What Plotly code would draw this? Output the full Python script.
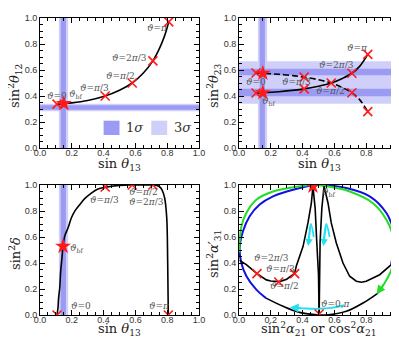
import plotly.graph_objects as go

# ---- panel (a): sin^2 th12 vs sin th13
a_s13 = [0.107, 0.15, 0.2, 0.3, 0.41, 0.5, 0.58, 0.65, 0.71, 0.75, 0.78, 0.795, 0.81]
a_s12 = [0.337, 0.341, 0.347, 0.366, 0.40, 0.444, 0.50, 0.577, 0.67, 0.762, 0.851, 0.906, 0.97]
a_cross_x = [0.107, 0.41, 0.58, 0.71, 0.81]
a_cross_y = [0.337, 0.40, 0.50, 0.67, 0.97]
a_bf = (0.15, 0.341)

# ---- panel (b): sin^2 th23 vs sin th13
b_s13 = [0.107, 0.15, 0.25, 0.35, 0.41, 0.5, 0.58, 0.65, 0.71, 0.76, 0.81]
b_solid = [0.423, 0.425, 0.433, 0.445, 0.455, 0.475, 0.50, 0.535, 0.575, 0.63, 0.72]
b_dash = [0.577, 0.575, 0.567, 0.555, 0.545, 0.525, 0.50, 0.465, 0.425, 0.37, 0.28]
b_cross_x = [0.107, 0.107, 0.41, 0.41, 0.58, 0.71, 0.71, 0.81, 0.81]
b_cross_y = [0.423, 0.577, 0.455, 0.545, 0.50, 0.575, 0.425, 0.72, 0.28]
b_bf_x = [0.15, 0.15]
b_bf_y = [0.425, 0.575]

# ---- panel (c): sin^2 delta vs sin th13
c_s13 = [0.107, 0.113, 0.117, 0.124, 0.13, 0.138, 0.145, 0.155, 0.176, 0.197, 0.218, 0.25,
         0.281, 0.323, 0.365, 0.407, 0.5, 0.58, 0.65, 0.71, 0.74, 0.753, 0.768, 0.784,
         0.797, 0.803, 0.807]
c_sd = [0.0, 0.054, 0.13, 0.208, 0.336, 0.438, 0.528, 0.605, 0.669, 0.746, 0.797, 0.849,
        0.895, 0.938, 0.969, 0.982, 0.997, 1.0, 1.0, 1.0, 0.995, 0.985, 0.96, 0.9,
        0.75, 0.41, 0.0]
c_cross_x = [0.107, 0.41, 0.58, 0.71, 0.807]
c_cross_y = [0.0, 0.985, 1.0, 1.0, 0.0]
c_bf = (0.145, 0.528)

# ---- panel (d): sin^2 a31' vs sin^2 a21 / cos^2 a21
d_blue_x = [0.958, 0.99, 1.0, 0.979, 0.927, 0.822, 0.675, 0.528, 0.486, 0.34, 0.214,
            0.13, 0.067, 0.025, 0.004, 0.015, 0.046, 0.109, 0.17]
d_blue_y = [0.387, 0.45, 0.528, 0.63, 0.785, 0.913, 0.977, 1.0, 1.0, 0.964, 0.913,
            0.85, 0.76, 0.644, 0.515, 0.40, 0.30, 0.195, 0.13]
d_green_x = [0.874, 0.916, 0.958, 0.979, 0.969, 0.927, 0.843, 0.696, 0.55, 0.47, 0.38,
             0.214, 0.109, 0.046, 0.015, 0.004, 0.002]
d_green_y = [0.169, 0.246, 0.348, 0.477, 0.605, 0.733, 0.86, 0.95, 0.99, 1.0, 0.99,
             0.95, 0.887, 0.785, 0.68, 0.554, 0.48]
d_bottom_x = [0.17, 0.277, 0.38, 0.5, 0.55, 0.675, 0.78, 0.874]
d_bottom_y = [0.13, 0.067, 0.02, 0.0, 0.0, 0.028, 0.092, 0.169]
d_left_x = [0.504, 0.5, 0.489, 0.479, 0.465, 0.455, 0.434, 0.403, 0.36, 0.35, 0.30,
            0.256, 0.2, 0.172, 0.113, 0.046, 0.004]
d_left_y = [0.0, 0.31, 0.564, 0.82, 0.99, 0.86, 0.71, 0.528, 0.375, 0.32, 0.275,
            0.257, 0.262, 0.27, 0.318, 0.387, 0.42]
d_right_x = [0.504, 0.506, 0.51, 0.521, 0.535, 0.56, 0.58, 0.612, 0.654, 0.696, 0.738,
             0.77, 0.8, 0.885, 0.948, 0.958]
d_right_y = [0.0, 0.31, 0.56, 0.82, 0.99, 0.86, 0.71, 0.554, 0.40, 0.298, 0.26,
             0.252, 0.26, 0.31, 0.375, 0.387]
d_cross_x = [0.113, 0.35, 0.25, 0.504]
d_cross_y = [0.318, 0.318, 0.254, 0.008]
d_bf = (0.465, 0.99)
d_cyan1_x = [0.47, 0.452, 0.437]
d_cyan1_y = [0.60, 0.70, 0.56]
d_cyan2_x = [0.57, 0.549, 0.532]
d_cyan2_y = [0.60, 0.70, 0.56]
d_cyan3_x = [0.66, 0.58, 0.5, 0.42, 0.36]
d_cyan3_y = [0.075, 0.055, 0.048, 0.05, 0.055]

# 1 sigma / 3 sigma ranges
s13_1s = (0.13, 0.163)
s13_3s = (0.119, 0.177)
s12_1s = (0.295, 0.328)
s12_3s = (0.282, 0.341)
s23_1s = [(0.398, 0.456), (0.56, 0.61)]
s23_3s = (0.34, 0.667)

DARK = "#9b9bf4"
LIGHT = "#cfcffa"
RED = "#ff1a1a"
CYAN = "#22e0f0"
LBL = "#555555"

fig = go.Figure()

xdom = [[32 / 399, 191 / 399], [231 / 399, 390 / 399]]
ydom = [[201 / 341, 331 / 341], [34 / 341, 164 / 341]]
axes = [("x", "y", 0, 0), ("x2", "y2", 1, 0), ("x3", "y3", 0, 1), ("x4", "y4", 1, 1)]


def line(ax, x, y, color="black", width=1.6, dash=None, shape="linear"):
    fig.add_trace(go.Scatter(x=x, y=y, mode="lines", xaxis=ax[0], yaxis=ax[1],
                             line=dict(color=color, width=width, dash=dash, shape=shape),
                             showlegend=False, hoverinfo="skip"))


def crosses(ax, x, y):
    fig.add_trace(go.Scatter(x=x, y=y, mode="markers", xaxis=ax[0], yaxis=ax[1],
                             marker=dict(symbol="x-thin", size=9, line=dict(color=RED, width=1.6)),
                             showlegend=False, hoverinfo="skip"))


def stars(ax, x, y):
    fig.add_trace(go.Scatter(x=x, y=y, mode="markers", xaxis=ax[0], yaxis=ax[1],
                             marker=dict(symbol="star", size=12, color=RED),
                             showlegend=False, hoverinfo="skip"))


def band(ax, lo, hi, color, vertical):
    if vertical:
        fig.add_shape(type="rect", xref=ax[0], yref=ax[1] + " domain", x0=lo, x1=hi, y0=0, y1=1,
                      fillcolor=color, line_width=0, layer="below")
    else:
        fig.add_shape(type="rect", xref=ax[0] + " domain", yref=ax[1], x0=0, x1=1, y0=lo, y1=hi,
                      fillcolor=color, line_width=0, layer="below")


A, B, C, D = [(a[0], a[1]) for a in axes]

# bands
for ax in (A, B, C):
    band(ax, *s13_3s, LIGHT, True)
band(A, *s12_3s, LIGHT, False)
band(B, *s23_3s, LIGHT, False)
for ax in (A, B, C):
    band(ax, *s13_1s, DARK, True)
band(A, *s12_1s, DARK, False)
for lo, hi in s23_1s:
    band(B, lo, hi, DARK, False)

# legend boxes in panel a
fig.add_shape(type="rect", xref="x", yref="y", x0=0.40, x1=0.50, y0=0.10, y1=0.21,
              fillcolor=DARK, line_width=0)
fig.add_shape(type="rect", xref="x", yref="y", x0=0.70, x1=0.80, y0=0.10, y1=0.21,
              fillcolor=LIGHT, line_width=0)

# panel a
line(A, a_s13, a_s12, shape="spline")
crosses(A, a_cross_x, a_cross_y)
stars(A, [a_bf[0]], [a_bf[1]])

# panel b
line(B, b_s13, b_solid, shape="spline")
line(B, b_s13, b_dash, dash="6px,3px", shape="spline")
crosses(B, b_cross_x, b_cross_y)
stars(B, b_bf_x, b_bf_y)

# panel c
line(C, c_s13, c_sd, shape="spline")
crosses(C, c_cross_x, c_cross_y)
stars(C, [c_bf[0]], [c_bf[1]])

# panel d
line(D, d_blue_x, d_blue_y, color="#1010e0", width=2, shape="spline")
line(D, d_green_x, d_green_y, color="#22dd22", width=2, shape="spline")
line(D, d_bottom_x, d_bottom_y, shape="spline")
line(D, d_left_x, d_left_y)
line(D, d_right_x, d_right_y)
for cx, cy in ((d_cyan1_x, d_cyan1_y), (d_cyan2_x, d_cyan2_y), (d_cyan3_x, d_cyan3_y)):
    line(D, cx, cy, color=CYAN, width=1.8, shape="spline")
crosses(D, d_cross_x, d_cross_y)
stars(D, [d_bf[0]], [d_bf[1]])

annotations = []


def arrow(ax, x0, y0, x1, y1, color, size=1.1):
    annotations.append(dict(x=x1, y=y1, ax=x0, ay=y0, xref=ax[0], yref=ax[1],
                            axref=ax[0], ayref=ax[1], text="", showarrow=True,
                            arrowhead=2, arrowsize=size, arrowwidth=1.6, arrowcolor=color))


arrow(D, d_cyan1_x[1], d_cyan1_y[1], 0.435, 0.53, CYAN, 0.9)
arrow(D, d_cyan2_x[1], d_cyan2_y[1], 0.530, 0.53, CYAN, 0.9)
arrow(D, 0.40, 0.052, 0.32, 0.058, CYAN)
arrow(D, 0.99, 0.45, 0.95, 0.38, "#1010e0")
arrow(D, 0.916, 0.246, 0.865, 0.16, "#22dd22")

TH = "<i>ϑ</i>"
labels = [
    (A, 0.66, 0.92, TH + "=<i>π</i>"), (A, 0.44, 0.69, TH + "=2<i>π</i>/3"),
    (A, 0.40, 0.55, TH + "=<i>π</i>/2"), (A, 0.24, 0.46, TH + "=<i>π</i>/3"),
    (A, 0.03, 0.40, TH + "=0"), (A, 0.17, 0.41, TH + "<sub>bf</sub>"),
    (B, 0.667, 0.77, TH + "=<i>π</i>"), (B, 0.49, 0.64, TH + "=2<i>π</i>/3"),
    (B, 0.26, 0.508, TH + "=<i>π</i>/3"), (B, 0.47, 0.436, TH + "=<i>π</i>/2"),
    (B, 0.03, 0.508, TH + "=0"), (B, 0.13, 0.36, TH + "<sub>bf</sub>"),
    (C, 0.30, 0.887, TH + "=<i>π</i>/3"), (C, 0.55, 0.945, TH + "=<i>π</i>/2"),
    (C, 0.55, 0.868, TH + "=2<i>π</i>/3"), (C, 0.176, 0.515, TH + "<sub>bf</sub>"),
    (C, 0.18, 0.07, TH + "=0"), (C, 0.67, 0.07, TH + "=<i>π</i>"),
    (D, 0.507, 0.94, TH + "<sub>bf</sub>"), (D, 0.08, 0.44, TH + "=2<i>π</i>/3"),
    (D, 0.16, 0.356, TH + "=<i>π</i>/3"), (D, 0.18, 0.22, TH + "=<i>π</i>/2"),
    (D, 0.50, 0.085, TH + "=0,<i>π</i>"),
]
for ax, x, y, t in labels:
    annotations.append(dict(x=x, y=y, xref=ax[0], yref=ax[1], text=t, showarrow=False,
                            xanchor="left", yanchor="middle",
                            font=dict(family="DejaVu Serif", size=9, color=LBL)))

# legend texts
for x, t in ((0.53, "1<i>σ</i>"), (0.83, "3<i>σ</i>")):
    annotations.append(dict(x=x, y=0.155, xref="x", yref="y", text=t, showarrow=False,
                            xanchor="left", yanchor="middle",
                            font=dict(family="DejaVu Serif", size=13, color="#333")))

TF = dict(family="DejaVu Serif", size=13, color="#222")
s13 = "sin <i>θ</i><sub>13</sub>"
xt = [(111, 156, s13), (311, 156, s13), (111, 321, s13),
      (311, 321, "sin<sup>2</sup><i>α</i><sub>21</sub> or cos<sup>2</sup><i>α</i><sub>21</sub>")]
for px, py, t in xt:
    annotations.append(dict(x=px / 399, y=1 - py / 341, xref="paper", yref="paper", text=t,
                            showarrow=False, xanchor="center", yanchor="middle", font=TF))
yt = [(7, 78, "sin<sup>2</sup><i>θ</i><sub>12</sub>"), (206, 78, "sin<sup>2</sup><i>θ</i><sub>23</sub>"),
      (7, 246, "sin<sup>2</sup><i>δ</i>"), (206, 246, "sin<sup>2</sup><i>α</i>′<sub>31</sub>")]
for px, py, t in yt:
    annotations.append(dict(x=px / 399, y=1 - py / 341, xref="paper", yref="paper", text=t,
                            showarrow=False, xanchor="center", yanchor="middle", textangle=-90,
                            font=TF))

axis_style = dict(range=[0, 1], showline=True, linecolor="black", linewidth=1, mirror="allticks",
                  ticks="inside", ticklen=5, tickwidth=1, tickcolor="black", dtick=0.2, tick0=0,
                  tickformat=".1f", showgrid=False, zeroline=False, automargin=False,
                  tickfont=dict(family="Liberation Sans", size=9, color="#333"),
                  minor=dict(ticks="inside", ticklen=3, dtick=0.05, tickcolor="black"))

layout = dict(width=399, height=341, margin=dict(l=0, r=0, t=0, b=0),
              plot_bgcolor="white", paper_bgcolor="white", showlegend=False,
              annotations=annotations)
for xa, ya, ci, ri in axes:
    xn = "xaxis" + xa[1:]
    yn = "yaxis" + ya[1:]
    layout[xn] = dict(axis_style, domain=xdom[ci], anchor=ya, ticklabelstandoff=-4)
    layout[yn] = dict(axis_style, domain=ydom[ri], anchor=xa)
fig.update_layout(**layout)

fig.write_html("out.html")
